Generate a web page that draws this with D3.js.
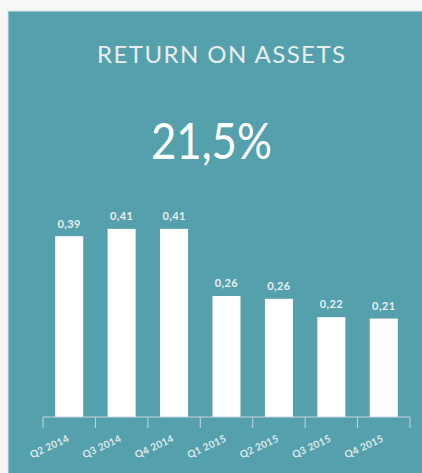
<!DOCTYPE html>
<html>
<head>
<meta charset="utf-8">
<script src="https://cdn.jsdelivr.net/npm/d3@7"></script>
<style>
  html, body { margin: 0; padding: 0; background: #f7f7f7; }
  svg { display: block; }
  text { font-family: Lato, "Open Sans", sans-serif; }
</style>
</head>
<body>
<svg id="chart" width="422" height="473"></svg>
<script>
const title = "RETURN ON ASSETS";
const kpi = "21,5%";
const categories = ["Q2 2014", "Q3 2014", "Q4 2014", "Q1 2015", "Q2 2015", "Q3 2015", "Q4 2015"];
const values = [0.393, 0.409, 0.409, 0.263, 0.257, 0.217, 0.214];

const svg = d3.select("#chart");
const W = 422, H = 473;

// panel
svg.append("rect").attr("x", 8).attr("y", 11).attr("width", W).attr("height", H)
  .attr("fill", "#54a1ad").attr("stroke", "#d9e6e8").attr("stroke-width", 1);

svg.append("text").attr("x", 97).attr("y", 62.5).attr("text-anchor", "start")
  .attr("fill", "#e8eded").attr("font-size", 24)
  .attr("textLength", 248).attr("lengthAdjust", "spacing").text(title);

svg.append("text").attr("x", 151).attr("y", 159).attr("text-anchor", "start")
  .attr("fill", "#ffffff").attr("font-size", 50)
  .attr("textLength", 121).attr("lengthAdjust", "spacingAndGlyphs").text(kpi);

const x = d3.scaleBand().domain(categories).range([43, 410]).paddingInner(0.466).paddingOuter(0.233);
const y = d3.scaleLinear().domain([0, 0.41]).range([417, 228.4]);

const g = svg.append("g");
g.selectAll("rect.bar").data(values).enter().append("rect").attr("class", "bar")
  .attr("x", (d, i) => x(categories[i]))
  .attr("width", x.bandwidth())
  .attr("y", d => y(d))
  .attr("height", d => y(0) - y(d))
  .attr("fill", "#ffffff");

const fmt = d => d3.format(".2f")(d).replace(".", ",");
g.selectAll("text.val").data(values).enter().append("text").attr("class", "val")
  .attr("x", (d, i) => x(categories[i]) + x.bandwidth() / 2)
  .attr("y", d => y(d) - 8.7)
  .attr("text-anchor", "middle").attr("fill", "#e8f0f1")
  .attr("font-size", 11).attr("font-weight", 700).attr("letter-spacing", 0.4)
  .text(fmt);

// axis with ticks between categories
const step = x.step();
const axisG = svg.append("g");
axisG.append("line").attr("x1", 43).attr("x2", 410).attr("y1", 417).attr("y2", 417)
  .attr("stroke", "#c6d3dc").attr("stroke-width", 1);
const boundaries = d3.range(categories.length + 1).map(i => 43 + i * step);
axisG.selectAll("line.tick").data(boundaries).enter().append("line").attr("class", "tick")
  .attr("x1", d => d).attr("x2", d => d).attr("y1", 417).attr("y2", 428)
  .attr("stroke", "#c6d3dc").attr("stroke-width", 1);

axisG.selectAll("text.lab").data(categories).enter().append("text").attr("class", "lab")
  .attr("transform", d => `translate(${x(d) + x.bandwidth() / 2 + 0.5},441) rotate(-25)`)
  .attr("text-anchor", "end").attr("fill", "#dfe9eb")
  .attr("font-size", 10).attr("font-weight", 700).attr("letter-spacing", 0.3)
  .text(d => d);
</script>
</body>
</html>
